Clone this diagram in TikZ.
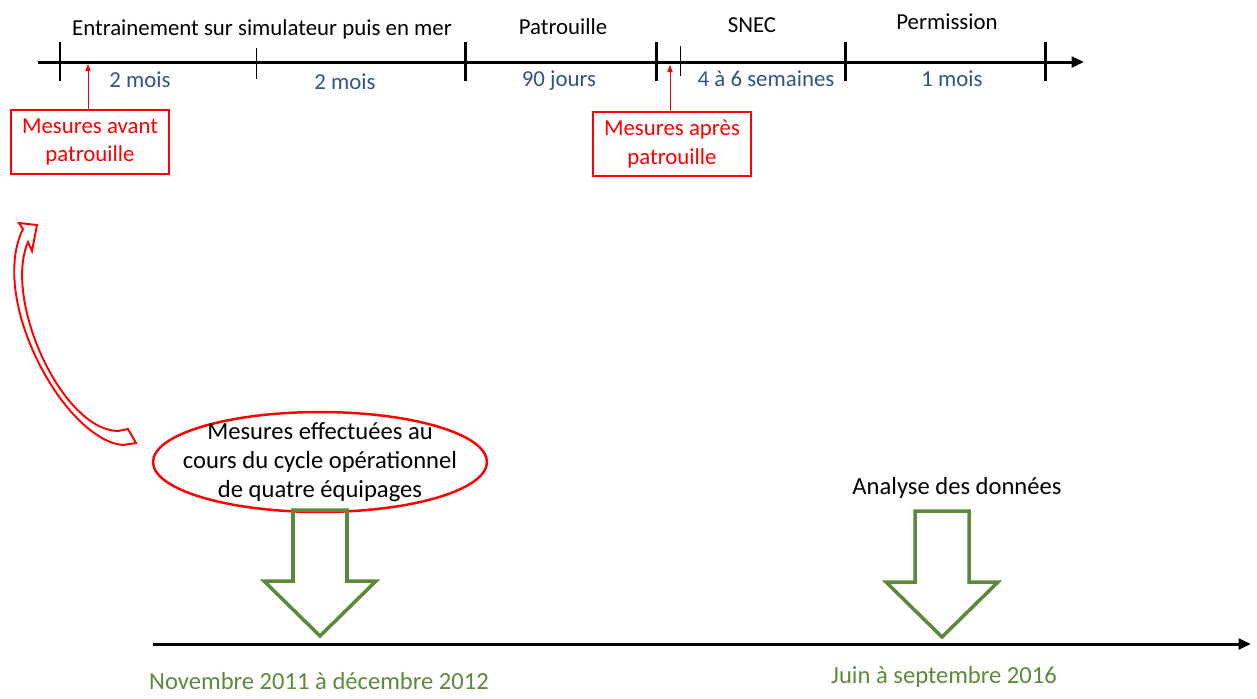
\documentclass[tikz,border=0pt]{standalone}
\usepackage{fontspec}
\setmainfont{Carlito}
\usetikzlibrary{arrows.meta, positioning, shapes.geometric}
\definecolor{durblue}{HTML}{2F5487}
\definecolor{datgreen}{HTML}{5A8A3A}
\definecolor{mesred}{HTML}{FF0000}

\begin{document}
\begin{tikzpicture}[
    x=0.02cm, y=-0.02cm,
    axis/.style={line width=1.7pt, -{Triangle[length=7pt, width=6pt]}},
    bigtick/.style={line width=1.7pt},
    smalltick/.style={line width=0.4pt},
    phase/.style={font=\fontsize{13}{15}\selectfont},
    duree/.style={font=\fontsize{13}{15}\selectfont, text=durblue},
    mesure/.style={draw=mesred, line width=0.6pt, text=mesred, align=center,
                   minimum width=3.16cm, minimum height=1.28cm, inner sep=1pt,
                   font=\fontsize{13}{16}\selectfont},
    pointer/.style={draw=mesred, line width=0.5pt, -{Triangle[length=4pt, width=3pt]}},
    cycle/.style={ellipse, draw=mesred, line width=1.4pt, minimum width=6.68cm,
                  minimum height=2cm, inner sep=0pt},
    bigarrow/.style={draw=datgreen, line width=2pt, line join=miter},
    curly/.style={draw=mesred, line width=1.1pt, line join=miter},
    date/.style={font=\fontsize{14}{16}\selectfont, text=datgreen},
]
\useasboundingbox (0,0) rectangle (1257,698);

% ===================== TOP: OPERATIONAL CYCLE =====================
\coordinate (ts) at (38,62);
\coordinate (te) at (1084,62);
\draw[axis] (ts) -- (te);

% major ticks
\foreach \x in {60, 465, 656, 845, 1045} {
    \draw[bigtick] (\x,42) -- (\x,81);
}
% minor ticks
\draw[smalltick] (256,48) -- (256,79);
\draw[smalltick] (680,46) -- (680,76);

% Phases above the axis
\node[phase] (train) at (262,29) {Entrainement sur simulateur puis en mer};
\node[phase] (patr)  at (563,27) {Patrouille};
\node[phase] (snec)  at (752,25) {SNEC};
\node[phase] (perm)  at (947,22) {Permission};

% Durations below the axis
\node[duree] (d1) at (140,80) {2 mois};
\node[duree] (d2) at (345,82) {2 mois};
\node[duree] (d3) at (559,81) {90 jours};
\node[duree] (d4) at (766,79) {4 à 6 semaines};
\node[duree] (d5) at (952,79) {1 mois};

% Measurement points
\node[mesure] (avant) at (90,142) {Mesures avant\\patrouille};
\node[mesure] (apres) at (672,144) {Mesures après\\patrouille};
\coordinate (pavant) at (88,64);
\coordinate (papres) at (670,65);
\draw[pointer] (avant.north -| pavant) -- (pavant);
\draw[pointer] (apres.north -| papres) -- (papres);

% ===================== LINK: CURVED BLOCK ARROW =====================
\draw[curly] (123,445) .. controls (65,440) and (-12,300) .. (23,229)
    -- (19,223) -- (37,225) -- (32,251) -- (28,242)
    .. controls (3,300) and (62,430) .. (118,431)
    -- (128,429) -- (136,443) -- cycle;

% ===================== BOTTOM: STUDY TIMELINE =====================
\node[cycle] (cyc) at (320,462) {};
\node[phase, align=center, font=\fontsize{14}{16.5}\selectfont] (cyctxt) at (cyc.center)
    {Mesures effectuées au\\cours du cycle opérationnel\\de quatre équipages};
\node[phase, font=\fontsize{14}{16}\selectfont] (analyse) at (957,488) {Analyse des données};

\coordinate (bs) at (153,644);
\coordinate (be) at (1251,644);
\draw[axis] (bs) -- (be);

% Green block arrows onto the axis
\foreach \cx/\ty in {320/510, 942/511} {
    \draw[bigarrow] (\cx-27,\ty) -- (\cx-27,\ty+71) -- (\cx-56,\ty+71)
        -- (\cx,\ty+126) -- (\cx+56,\ty+71) -- (\cx+27,\ty+71)
        -- (\cx+27,\ty) -- cycle;
}

% Dates
\node[date] (dmes) at (319,681) {Novembre 2011 à décembre 2012};
\node[date] (dana) at (944,677) {Juin à septembre 2016};

\end{tikzpicture}
\end{document}
